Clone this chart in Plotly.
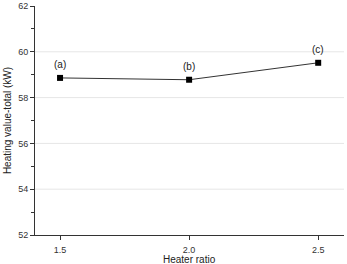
import plotly.graph_objects as go

heater_ratio = [1.5, 2.0, 2.5]
heating_value = [58.86, 58.78, 59.52]
point_labels = ["(a)", "(b)", "(c)"]
grid_values = [54, 56, 58, 60]

fig = go.Figure()
fig.add_trace(go.Scatter(
    x=heater_ratio, y=heating_value, mode="lines+markers",
    line=dict(color="#333333", width=1),
    marker=dict(symbol="square", size=6, color="#000000"),
    showlegend=False,
))
for x, y, t in zip(heater_ratio, heating_value, point_labels):
    fig.add_annotation(x=x, y=y, text=t, showarrow=False, yshift=13,
                       font=dict(family="Liberation Sans, Arial", size=10, color="#222222"))
for g in grid_values:
    fig.add_shape(type="line", xref="paper", x0=0, x1=1, yref="y", y0=g, y1=g,
                  line=dict(color="#e6e6e6", width=1), layer="below")

# x-axis title, placed at the bottom edge
fig.add_annotation(xref="paper", yref="paper", x=0.5, y=0, yshift=-17, yanchor="top",
                   text="Heater ratio", showarrow=False,
                   font=dict(family="Liberation Sans, Arial", size=10, color="#222222"))

axis_font = dict(family="Liberation Sans, Arial", size=9, color="#333333")
fig.update_layout(
    width=347, height=264,
    margin=dict(l=35, r=3, t=6, b=29),
    plot_bgcolor="white", paper_bgcolor="white",
    xaxis=dict(range=[1.403, 2.6], tickvals=heater_ratio, ticktext=["1.5", "2.0", "2.5"],
               ticks="outside", ticklen=4, tickcolor="#333333", ticklabelstandoff=2,
               showline=True, linecolor="#333333", linewidth=1, automargin=False,
               showgrid=False, zeroline=False, tickfont=axis_font),
    yaxis=dict(range=[52, 62], tickvals=[52, 54, 56, 58, 60, 62],
               ticks="outside", ticklen=4, tickcolor="#333333", automargin=False,
               minor=dict(tickvals=[53, 55, 57, 59, 61], ticks="outside", ticklen=3, tickcolor="#333333", showgrid=False),
               showline=True, linecolor="#333333", linewidth=1,
               showgrid=False, zeroline=False, tickfont=axis_font,
               title=dict(text="Heating value-total (kW)", font=dict(family="Liberation Sans, Arial", size=10, color="#222222"), standoff=4)),
)
fig.write_html("out.html")
